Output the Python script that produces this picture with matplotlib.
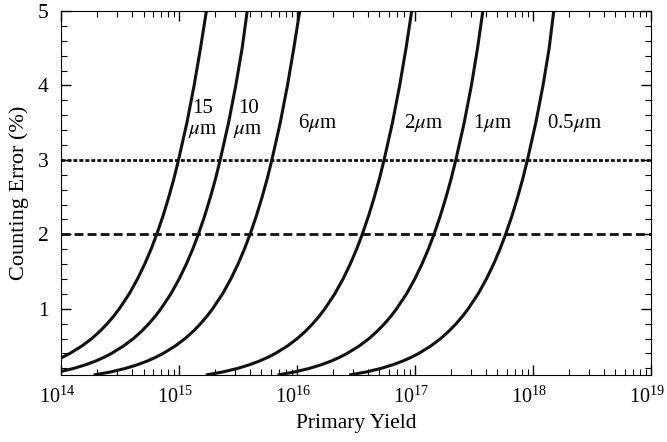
import numpy as np
import matplotlib
matplotlib.use("Agg")
import matplotlib.pyplot as plt
import matplotlib.ticker as mticker
import matplotlib.transforms as mtransforms

plt.rcParams["font.family"] = ["Liberation Serif", "DejaVu Serif"]
plt.rcParams["mathtext.fontset"] = "stix"

# counting error levels (%) at which each curve was read
err_levels = [0.11, 0.15, 0.2, 0.25, 0.3, 0.35, 0.4, 0.5, 0.6, 0.7, 0.8, 0.9, 1.0,
              1.2, 1.4, 1.6, 1.8, 2.0, 2.25, 2.5, 2.75, 3.0, 3.5, 4.0, 4.5, 5.0]

# log10(primary yield) at those error levels, one list per grain size
logy_15um = [13.485, 13.627, 13.758, 13.860, 13.944, 14.014, 14.075, 14.177, 14.261,
             14.331, 14.392, 14.446, 14.494, 14.578, 14.648, 14.709, 14.763, 14.811,
             14.865, 14.913, 14.957, 14.996, 15.067, 15.128, 15.182, 15.232]
logy_10um = [13.838, 13.980, 14.111, 14.213, 14.297, 14.367, 14.428, 14.530, 14.614,
             14.684, 14.745, 14.799, 14.847, 14.931, 15.001, 15.062, 15.116, 15.164,
             15.218, 15.266, 15.310, 15.349, 15.420, 15.481, 15.535, 15.578]
logy_6um = [14.276, 14.418, 14.549, 14.651, 14.735, 14.805, 14.866, 14.968, 15.052,
            15.122, 15.183, 15.237, 15.285, 15.369, 15.439, 15.500, 15.554, 15.602,
            15.656, 15.704, 15.748, 15.787, 15.858, 15.919, 15.973, 16.023]
logy_2um = [15.227, 15.369, 15.500, 15.602, 15.686, 15.756, 15.817, 15.919, 16.003,
            16.073, 16.134, 16.188, 16.236, 16.320, 16.390, 16.451, 16.505, 16.553,
            16.607, 16.655, 16.699, 16.738, 16.809, 16.870, 16.924, 16.972]
logy_1um = [15.835, 15.977, 16.108, 16.210, 16.294, 16.364, 16.425, 16.527, 16.611,
            16.681, 16.742, 16.796, 16.844, 16.928, 16.998, 17.059, 17.113, 17.161,
            17.215, 17.263, 17.307, 17.346, 17.417, 17.478, 17.530, 17.575]
logy_05um = [16.442, 16.584, 16.715, 16.817, 16.901, 16.971, 17.032, 17.134, 17.218,
             17.288, 17.349, 17.403, 17.451, 17.535, 17.605, 17.666, 17.720, 17.768,
             17.822, 17.870, 17.914, 17.953, 18.024, 18.085, 18.137, 18.176]

curve_logy = [logy_15um, logy_10um, logy_6um, logy_2um, logy_1um, logy_05um]
curve_labels = ["15\n$\\mu$m", "10\n$\\mu$m", "6$\\mu$m", "2$\\mu$m", "1$\\mu$m", "0.5$\\mu$m"]
# label anchor positions (yield, error %)
label_x = [1.6e15, 3.85e15, 1.02e16, 8.07e16, 3.1e17, 1.31e18]
label_y = [3.54, 3.54, 3.5, 3.5, 3.5, 3.5]
label_ha = ["center", "center", "left", "left", "left", "left"]

limit_dotted = 3.0
limit_dashed = 2.0

fig = plt.figure(figsize=(6.67, 4.42), dpi=100)
ax = fig.add_axes([0.0915, 0.1516, 0.8845, 0.8236])

for ly in curve_logy:
    ax.plot(10.0 ** np.array(ly), err_levels, color="#111111", lw=2.2,
            solid_capstyle="butt", solid_joinstyle="round")

ax.axhline(limit_dotted, color="#111111", lw=2.0, linestyle=(0, (1.4, 0.75)))
ax.axhline(limit_dashed, color="#111111", lw=2.0, linestyle=(0, (3.2, 1.5)))

for lx, ly, lab, ha in zip(label_x, label_y, curve_labels, label_ha):
    ax.text(lx, ly, lab, fontsize=15, ha=ha, va="center", multialignment="center",
            linespacing=1.15)

ax.set_xscale("log")
ax.set_xlim(1e14, 1e19)
ax.set_ylim(0.11, 5)
ax.xaxis.set_major_locator(mticker.LogLocator(base=10, numticks=10))
ax.xaxis.set_minor_locator(mticker.LogLocator(base=10, subs=np.arange(2, 10), numticks=20))
ax.xaxis.set_minor_formatter(mticker.NullFormatter())
ax.yaxis.set_major_locator(mticker.MultipleLocator(1))
ax.yaxis.set_minor_locator(mticker.MultipleLocator(0.2))

ax.tick_params(which="both", direction="in", top=True, right=True)
ax.tick_params(which="major", length=7, width=1)
ax.tick_params(which="minor", length=4, width=0.8)
ax.tick_params(axis="x", pad=8, labelsize=14.5)
ax.tick_params(axis="y", pad=9, labelsize=15.5)

# nudge the x tick labels left a little, like the original
shift = mtransforms.ScaledTranslation(-4 / 100, 0, fig.dpi_scale_trans)
for lab in ax.get_xticklabels():
    lab.set_transform(lab.get_transform() + shift)

ax.set_xlabel("Primary Yield", fontsize=15.5, labelpad=5)
ax.set_ylabel("Counting Error (%)", fontsize=16, labelpad=6)

fig.savefig("out.png", dpi=100)
